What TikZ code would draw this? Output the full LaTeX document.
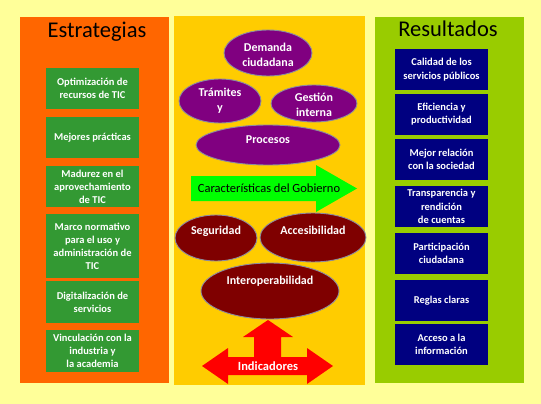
\documentclass[tikz,border=0pt]{standalone}
\usepackage{fontspec}
\setmainfont{Carlito}
\usepackage{xcolor}
\usepackage{tikz}
\usetikzlibrary{shapes.geometric}

\definecolor{bgyellow}{HTML}{FFFF99}
\definecolor{stratorange}{HTML}{FF6600}
\definecolor{govgold}{HTML}{FFCC00}
\definecolor{resgreen}{HTML}{99CC00}
\definecolor{boxgreen}{HTML}{339933}
\definecolor{boxnavy}{HTML}{000080}
\definecolor{ovalpurple}{HTML}{800080}
\definecolor{ovalred}{HTML}{7F0000}
\definecolor{ovalrim}{HTML}{8C8CA0}

\begin{document}
\begin{tikzpicture}[x=1pt,y=-1pt,
        every node/.style={inner sep=0pt,align=center},
        title/.style={anchor=base,font=\fontsize{22.5}{26}\selectfont},
        stratbox/.style={fill=boxgreen,text=white,minimum width=93pt,
          font=\fontsize{10.5}{13}\selectfont\bfseries},
        resbox/.style={fill=boxnavy,text=white,minimum width=93pt,minimum height=41pt,
          font=\fontsize{10.5}{13.5}\selectfont\bfseries},
        oval/.style={ellipse,draw=ovalrim,line width=0.9pt},
        ovaltext/.style={text=white,font=\fontsize{12}{15}\selectfont\bfseries}]
        \useasboundingbox[fill=bgyellow] (0,0) rectangle (541,404);
        % three panels
        \node[fill=stratorange,minimum width=149pt,minimum height=366pt] (strat) at (94.5,200) {};
        \node[fill=govgold,minimum width=191pt,minimum height=369pt] (gov) at (269.5,200.5) {};
        \node[fill=resgreen,minimum width=149pt,minimum height=366pt] (res) at (449.5,200) {};
        \node[title] (strat-t) at (97,38) {Estrategias};
        \node[title] (res-t) at (448,37) {Resultados};
        % left column
        \node[stratbox,minimum height=41pt] (s1) at (92.5,88.5) {Optimización de\\recursos de TIC};
        \node[stratbox,minimum height=41pt] (s2) at (92.5,137.5) {Mejores prácticas};
        \node[stratbox,minimum height=41pt] (s3) at (92.5,186.5) {Madurez en el\\aprovechamiento\\de TIC};
        \node[stratbox,minimum height=64pt] (s4) at (92.5,246) {Marco normativo\\para el uso y\\administración de\\TIC};
        \node[stratbox,minimum height=42pt] (s5) at (92.5,302) {Digitalización de\\servicios};
        \node[stratbox,minimum height=42pt] (s6) at (92.5,351) {Vinculación con la\\industria y\\la academia};
        % right column
        \node[resbox] (r1) at (441.5,69.5) {Calidad de los\\servicios públicos};
        \node[resbox] (r2) at (441.5,114) {Eficiencia y\\productividad};
        \node[resbox] (r3) at (441.5,159.5) {Mejor relación\\con la sociedad};
        \node[resbox] (r4) at (441.5,206.5) {Transparencia y\\rendición\\de cuentas};
        \node[resbox] (r5) at (441.5,253.5) {Participación\\ciudadana};
        \node[resbox] (r6) at (441.5,300.5) {Reglas claras};
        \node[resbox] (r7) at (441.5,344.5) {Acceso a la\\información};
        % middle column
        \node[oval,fill=ovalpurple,minimum width=88pt,minimum height=46pt] (dem) at (268,53) {};
        \node[oval,fill=ovalpurple,minimum width=82pt,minimum height=44pt] (tram) at (220,101) {};
        \node[oval,fill=ovalpurple,minimum width=86pt,minimum height=37pt] (gest) at (314,103.5) {};
        \node[oval,fill=ovalpurple,minimum width=144pt,minimum height=40pt] (proc) at (268,145) {};
        \node[ovaltext] (dem-t) at (268,54.5) {Demanda\\ciudadana};
        \node[ovaltext] (tram-t) at (220,100.5) {Trámites\\y};
        \node[ovaltext] (gest-t) at (314,105) {Gestión\\interna};
        \node[ovaltext] (proc-t) at (268,140) {Procesos};
        \fill[green] (191,176) -- (316,176) -- (316,165) -- (357,188.5)
          -- (316,212) -- (316,201) -- (191,201) -- cycle;
        \node[font=\fontsize{12.5}{15}\selectfont] (carac) at (269,188.5) {Características del Gobierno};
        \node[oval,fill=ovalred,minimum width=82pt,minimum height=46pt] (seg) at (216,238) {};
        \node[oval,fill=ovalred,minimum width=106pt,minimum height=49pt] (acc) at (313,237.5) {};
        \node[oval,fill=ovalred,minimum width=138pt,minimum height=56pt] (inter) at (270,291) {};
        \node[ovaltext] (seg-t) at (216,231.5) {Seguridad};
        \node[ovaltext] (acc-t) at (313,230.5) {Accesibilidad};
        \node[ovaltext] (inter-t) at (270,281.5) {Interoperabilidad};
        \fill[red] (268,320) -- (293,337) -- (281,337) -- (281,357) -- (307,357) -- (307,348)
          -- (333,366) -- (307,384) -- (307,375) -- (228,375) -- (228,384) -- (202,366)
          -- (228,348) -- (228,357) -- (254,357) -- (254,337) -- (243,337) -- cycle;
        \node[ovaltext,font=\fontsize{12.5}{15}\selectfont\bfseries] (indic) at (268,366) {Indicadores};
      \end{tikzpicture}
\end{document}
